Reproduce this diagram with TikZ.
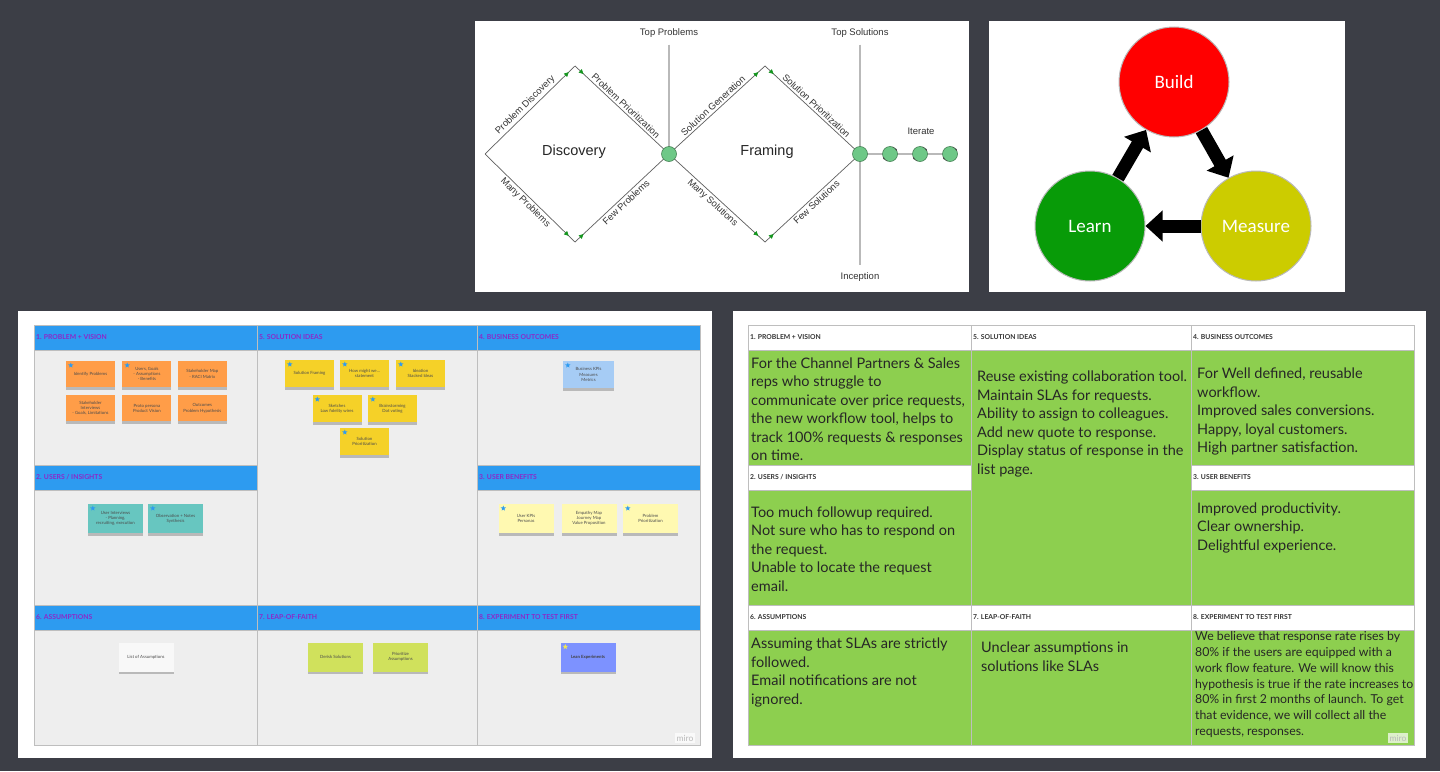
\documentclass[tikz,border=0pt]{standalone}
\usepackage{fontspec}
\setmainfont{Lato}
\newfontfamily\drawfont{Liberation Sans}
\newfontfamily\loopfont{Carlito}
\usetikzlibrary{arrows.meta,positioning,calc,decorations.markings,shadows,shapes.geometric}
\definecolor{deskgray}{RGB}{60,62,70}
\definecolor{linegray}{RGB}{95,95,95}
\definecolor{axisgray}{RGB}{185,185,185}
\definecolor{nodegreen}{RGB}{110,200,135}
\definecolor{nodegreenline}{RGB}{70,130,85}
\definecolor{tipgreen}{RGB}{20,150,30}
\definecolor{buildred}{RGB}{255,0,0}
\definecolor{learngreen}{RGB}{8,155,8}
\definecolor{measureyellow}{RGB}{204,204,0}
\definecolor{miroblue}{RGB}{45,155,240}
\definecolor{mirogray}{RGB}{238,238,238}
\definecolor{gridgray}{RGB}{190,190,190}
\definecolor{headpurple}{RGB}{140,40,200}
\definecolor{canvasgreen}{RGB}{141,207,79}
\definecolor{noteorange}{RGB}{255,157,72}
\definecolor{noteyellow}{RGB}{245,209,40}
\definecolor{noteblue}{RGB}{166,204,245}
\definecolor{noteteal}{RGB}{103,198,192}
\definecolor{notecream}{RGB}{255,249,177}
\definecolor{notewhite}{RGB}{248,248,248}
\definecolor{notelime}{RGB}{208,225,92}
\definecolor{noteviolet}{RGB}{125,146,255}
\definecolor{notetext}{RGB}{75,75,75}
\definecolor{starblue}{RGB}{45,155,240}
\definecolor{staryellow}{RGB}{240,230,80}
\tikzset{
  axis label/.style={font=\drawfont\fontsize{9.5}{11}\selectfont, text=black!80, inner sep=1pt},
  phase label/.style={font=\drawfont\fontsize{14.5}{16}\selectfont, text=black!85, inner sep=1pt},
  edge label/.style={sloped, font=\drawfont\fontsize{9.4}{11}\selectfont, text=black!80, inner sep=2pt},
  dd edge/.style={draw=linegray, line width=0.7pt},
  axis line/.style={draw=axisgray, line width=1.2pt},
  flow end/.style={postaction={decorate}, decoration={markings,
    mark=at position 0.93 with {\arrow{Triangle[length=4.5pt,width=4.5pt,color=tipgreen]}}}},
  flow start/.style={postaction={decorate}, decoration={markings,
    mark=at position 0.09 with {\arrow{Triangle[length=4.5pt,width=4.5pt,color=tipgreen]}}}},
  junction/.style={circle, draw=nodegreenline, fill=nodegreen, minimum size=15pt, inner sep=0pt, line width=0.6pt},
  cycle mark/.style={draw=black!70, line width=0.4pt, -{Stealth[length=2pt,width=2pt]}},
  loop circle/.style={circle, draw=gray!55, line width=1pt, minimum size=110pt, inner sep=0pt,
    text=white, font=\loopfont\fontsize{19}{21}\selectfont},
  block arrow/.style={draw=black, line width=13pt, -{Triangle[length=17pt,width=30pt]}},
  grid line/.style={draw=gridgray, line width=0.8pt},
  board head/.style={anchor=west, inner sep=0pt, font=\bfseries\fontsize{6.8}{8}\selectfont},
  note/.style={minimum width=49pt, minimum height=26pt, inner sep=1pt, align=center,
    text=notetext, font=\fontsize{4.3}{5.2}\selectfont,
    drop shadow={shadow xshift=0pt, shadow yshift=-2.5pt, opacity=0.22, fill=black}},
  wide note/.style={note, minimum width=55pt, minimum height=29pt},
  starmark/.style={star, star points=5, star point ratio=2.3, fill=starblue, inner sep=0pt, minimum size=5.5pt},
  canvas text/.style={anchor=north west, inner sep=0pt, align=left, text=black!85,
    font=\fontsize{14.5}{18.5}\selectfont},
  small canvas text/.style={canvas text, font=\fontsize{12.3}{15.8}\selectfont},
  miro mark/.style={fill=white, fill opacity=0.7, text opacity=1, text=gray!55, inner sep=1.5pt,
    font=\fontsize{8.5}{9}\selectfont},
}
\begin{document}
\begin{tikzpicture}[x=1pt,y=-1pt]
  \useasboundingbox (0,0) rectangle (1440,771);
  \fill[deskgray] (0,0) rectangle (1440,771);

  % double diamond
  \fill[white] (475,21) rectangle (969,292);
  \coordinate (l1) at (485,154);
  \coordinate (t1) at (575,66);
  \coordinate (b1) at (575,242);
  \coordinate (j1) at (669,154);
  \coordinate (t2) at (765,66);
  \coordinate (b2) at (765,242);
  \coordinate (j2) at (860,154);
  \coordinate (i1) at (890,154);
  \coordinate (i2) at (920,154);
  \coordinate (i3) at (950,154);

  \node[axis label] (tprob) at (669,33) {Top Problems};
  \node[axis label] (tsol) at (860,33) {Top Solutions};
  \node[axis label] (incep) at (860,277) {Inception};
  \node[axis label] (iter) at (921,131) {Iterate};
  \node[phase label] (disc) at (574,152) {Discovery};
  \node[phase label] (fram) at (767,152) {Framing};

  \draw[axis line] ([yshift=-6pt]tprob.south) -- (j1);
  \draw[axis line] ([yshift=-6pt]tsol.south) -- ([yshift=6pt]incep.north);
  \draw[axis line] (j2) -- (i3);

  \draw[dd edge, flow end] (l1) -- node[edge label, above] (pdisc) {Problem Discovery} (t1);
  \draw[dd edge, flow start] (t1) -- node[edge label, above] (pprio) {Problem Prioritization} (j1);
  \draw[dd edge, flow end] (l1) -- node[edge label, below] (mprob) {Many Problems} (b1);
  \draw[dd edge, flow start] (b1) -- node[edge label, below] (fprob) {Few Problems} (j1);
  \draw[dd edge, flow end] (j1) -- node[edge label, above] (sgen) {Solution Generation} (t2);
  \draw[dd edge, flow start] (t2) -- node[edge label, above] (sprio) {Solution Prioritization} (j2);
  \draw[dd edge, flow end] (j1) -- node[edge label, below] (msol) {Many Solutions} (b2);
  \draw[dd edge, flow start] (b2) -- node[edge label, below] (fsol) {Few Solutions} (j2);

  \node[junction] (jn1) at (j1) {};
  \node[junction] (jn2) at (j2) {};
  \foreach \c in {i1,i2,i3} {
    \node[junction] (n\c) at (\c) {};
    \draw[cycle mark] ([shift={(70:7.5pt)}]\c) arc[start angle=70, end angle=25, radius=7.5pt];
    \draw[cycle mark] ([shift={(250:7.5pt)}]\c) arc[start angle=250, end angle=205, radius=7.5pt];
  }

  % build measure learn
  \fill[white] (989,21) rectangle (1345,292);
  \node[loop circle, fill=buildred] (build) at (1174,82) {Build};
  \node[loop circle, fill=learngreen] (learn) at (1090,226) {Learn};
  \node[loop circle, fill=measureyellow] (measure) at (1256,226) {Measure};
  \draw[block arrow] (learn) -- (build);
  \draw[block arrow] (build) -- (measure);
  \draw[block arrow] (measure) -- (learn);

  % boards
  \fill[white] (18,311) rectangle (712,758);
  \fill[white] (733,311) rectangle (1426,758);
  \fill[mirogray] (34,325) rectangle (700,745);
  \fill[miroblue] (34,325) rectangle (700,350);
  \fill[miroblue] (34,465) rectangle (257,490);
  \fill[miroblue] (477,465) rectangle (700,490);
  \fill[miroblue] (34,605) rectangle (700,630);
  \fill[canvasgreen] (748,325) rectangle (1414,745);
  \fill[white] (748,325) rectangle (1414,350);
  \fill[white] (748,465) rectangle (971,490);
  \fill[white] (1191,465) rectangle (1414,490);
  \fill[white] (748,605) rectangle (1414,630);
  \foreach \dx in {0,714} {
    \begin{scope}[xshift=\dx pt]
      \draw[grid line] (34,325) rectangle (700,745);
      \draw[grid line] (257,325) -- (257,745) (477,325) -- (477,745);
      \draw[grid line] (34,350) -- (700,350) (34,605) -- (700,605) (34,630) -- (700,630);
      \draw[grid line] (34,465) -- (257,465) (34,490) -- (257,490);
      \draw[grid line] (477,465) -- (700,465) (477,490) -- (700,490);
    \end{scope}
  }

  % miro board headings
  \node[board head, text=headpurple] (lh1) at (36,337.5) {1. PROBLEM + VISION};
  \node[board head, text=headpurple] (lh5) at (259,337.5) {5. SOLUTION IDEAS};
  \node[board head, text=headpurple] (lh4) at (479,337.5) {4. BUSINESS OUTCOMES};
  \node[board head, text=headpurple] (lh2) at (36,477.5) {2. USERS / INSIGHTS};
  \node[board head, text=headpurple] (lh3) at (479,477.5) {3. USER BENEFITS};
  \node[board head, text=headpurple] (lh6) at (36,617.5) {6. ASSUMPTIONS};
  \node[board head, text=headpurple] (lh7) at (259,617.5) {7. LEAP-OF-FAITH};
  \node[board head, text=headpurple] (lh8) at (479,617.5) {8. EXPERIMENT TO TEST FIRST};

  % sticky notes
  \node[note, fill=noteorange] (pv1) at (90.5,374) {Identify Problems};
  \node[note, fill=noteorange, right=7pt of pv1] (pv2) {Users, Goals\\- Assumptions\\- Benefits};
  \node[note, fill=noteorange, right=6pt of pv2] (pv3) {Stakeholder Map\\- RACI Matrix};
  \node[note, fill=noteorange, below=8pt of pv1] (pv4) {Stakeholder\\Interviews\\- Goals, Limitations};
  \node[note, fill=noteorange, below=8pt of pv2] (pv5) {Proto persona\\Product Vision};
  \node[note, fill=noteorange, below=8pt of pv3] (pv6) {Outcomes\\Problem Hypothesis};

  \node[note, fill=noteyellow, minimum height=27pt] (si1) at (309.5,373.5) {Solution Framing};
  \node[note, fill=noteyellow, minimum height=27pt] (si2) at (364.5,373.5) {How might we...\\statement};
  \node[note, fill=noteyellow, minimum height=27pt] (si3) at (420.5,373.5) {Ideation\\Stacked Ideas};
  \node[note, fill=noteyellow, minimum height=27pt] (si4) at (337,408.5) {Sketches\\Low fidelity wires};
  \node[note, fill=noteyellow, minimum height=27pt] (si5) at (392.5,408.5) {Brainstorming\\Dot voting};
  \node[note, fill=noteyellow, minimum height=27pt] (si6) at (364.5,441.5) {Solution\\Prioritization};

  \node[note, fill=noteblue, minimum width=51pt, minimum height=27pt] (bo1) at (588.5,374.5) {Business KPIs\\Measures\\Metrics};

  \node[wide note, fill=noteteal] (ui1) at (115.5,518.5) {User Interviews\\- Planning,\\recruiting, execution};
  \node[wide note, fill=noteteal] (ui2) at (175.5,518.5) {Observation + Notes\\Synthesis};

  \node[wide note, fill=notecream] (ub1) at (526,518.5) {User KPIs\\Personas};
  \node[wide note, fill=notecream] (ub2) at (589,518.5) {Empathy Map\\Journey Map\\Value Proposition};
  \node[wide note, fill=notecream] (ub3) at (650.5,518.5) {Problem\\Prioritization};

  \node[wide note, fill=notewhite] (as1) at (146,657) {List of Assumptions};
  \node[wide note, fill=notelime] (lf1) at (335.5,657) {Derisk Solutions};
  \node[wide note, fill=notelime] (lf2) at (400.5,657) {Prioritize\\Assumptions};
  \node[wide note, fill=noteviolet, text=black!75] (ex1) at (588,657) {\bfseries Lean Experiments};

  \foreach \n in {pv1,pv2,si1,si2,si3,si4,si5,si6,bo1,ui1,ui2,ub1,ub3}
    \node[starmark] (st-\n) at ([shift={(5,4.5)}]\n.north west) {};
  \node[starmark, fill=staryellow] (st-ex1) at ([shift={(5,4.5)}]ex1.north west) {};

  \node[miro mark] (miroL) at (685,738) {miro};

  % lean canvas headings
  \node[board head, text=black!80] (rh1) at (750,337.5) {1. PROBLEM + VISION};
  \node[board head, text=black!80] (rh5) at (973,337.5) {5. SOLUTION IDEAS};
  \node[board head, text=black!80] (rh4) at (1193,337.5) {4. BUSINESS OUTCOMES};
  \node[board head, text=black!80] (rh2) at (750,477.5) {2. USERS / INSIGHTS};
  \node[board head, text=black!80] (rh3) at (1193,477.5) {3. USER BENEFITS};
  \node[board head, text=black!80] (rh6) at (750,617.5) {6. ASSUMPTIONS};
  \node[board head, text=black!80] (rh7) at (973,617.5) {7. LEAP-OF-FAITH};
  \node[board head, text=black!80] (rh8) at (1193,617.5) {8. EXPERIMENT TO TEST FIRST};

  % lean canvas texts
  \node[canvas text] (pvtext) at (751,357.5) {For the Channel Partners \& Sales\\reps who struggle to\\communicate over price requests,\\the new workflow tool, helps to\\track 100\% requests \& responses\\on time.};
  \node[canvas text] (uitext) at (751,506.5) {Too much followup required.\\Not sure who has to respond on\\the request.\\Unable to locate the request\\email.};
  \node[canvas text] (sitext) at (977,371) {Reuse existing collaboration tool.\\Maintain SLAs for requests.\\Ability to assign to colleagues.\\Add new quote to response.\\Display status of response in the\\list page.};
  \node[canvas text] (botext) at (1197,368) {For Well defined, reusable\\workflow.\\Improved sales conversions.\\Happy, loyal customers.\\High partner satisfaction.};
  \node[canvas text] (ubtext) at (1197,502.5) {Improved productivity.\\Clear ownership.\\Delightful experience.};
  \node[canvas text] (astext) at (751,638) {Assuming that SLAs are strictly\\followed.\\Email notifications are not\\ignored.};
  \node[canvas text] (lftext) at (981,642) {Unclear assumptions in\\solutions like SLAs};
  \node[small canvas text] (extext) at (1195,631.5) {We believe that response rate rises by\\80\% if the users are equipped with a\\work flow feature. We will know this\\hypothesis is true if the rate increases to\\80\% in first 2 months of launch. To get\\that evidence, we will collect all the\\requests, responses.};

  \node[miro mark] (miroR) at (1398,738) {miro};
\end{tikzpicture}
\end{document}
